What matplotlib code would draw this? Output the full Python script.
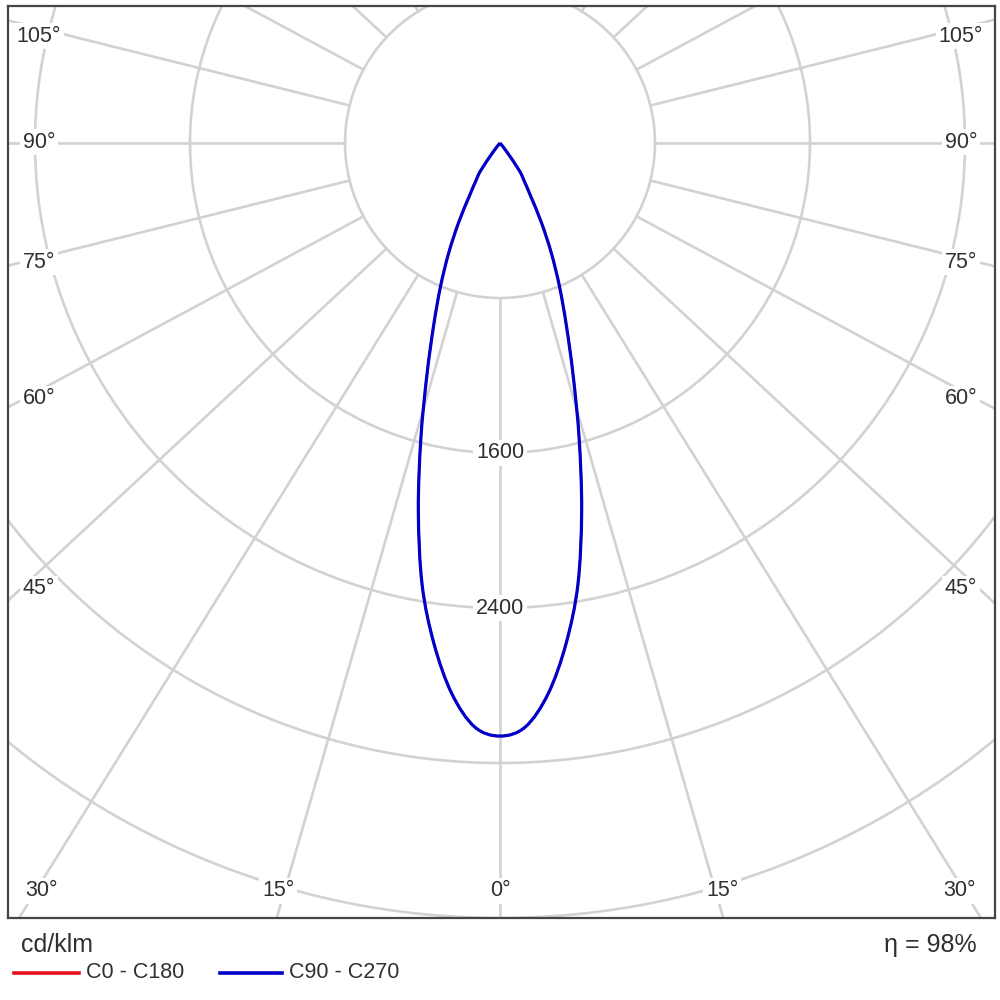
import numpy as np
import matplotlib
matplotlib.use("Agg")
import matplotlib.pyplot as plt
from matplotlib.lines import Line2D
from matplotlib.path import Path
from matplotlib.patches import PathPatch

# ---------------- data ----------------
gamma_deg = [0, 2.5, 5, 7.5, 10, 12.5, 15, 17.5, 20, 22.5, 25, 27.5, 30,
             32.5, 35, 37.5, 40, 42.5, 45]
intensity_c0_c180 = [3061, 3016, 2853, 2608, 2315, 1947, 1578, 1254, 1001, 803,
                     627, 463, 317, 233, 174, 60, 0, 0, 0]
intensity_c90_c270 = [3061, 3016, 2853, 2608, 2315, 1947, 1578, 1254, 1001, 803,
                      627, 463, 317, 233, 174, 60, 0, 0, 0]
ring_values = [800, 1600, 2400, 3200, 4000]
ring_labels = [1600, 2400]
grid_angles = [0, 15, 30, 45, 60, 75, 90, 105, 120, 135, 150, 165, 180]
side_angle_labels = [105, 90, 75, 60, 45]
bottom_angle_labels = [30, 15, 0]
unit_label = "cd/klm"
efficiency_label = "η = 98%"
series_names = ["C0 - C180", "C90 - C270"]

# ---------------- layout ----------------
W = H = 1000
CX, CY = 500.0, 143.0          # pole position in pixels
PX_PER_UNIT = 155.0 / 800.0    # pixels per cd/klm
FRAME = (8, 6, 995, 918)       # left, top, right, bottom in pixels
H_STRETCH = 1.075              # radial grid drawn slightly stretched horizontally

grid_col = "#d2d2d2"
text_col = "#303030"
red = "#e8101a"
blue = "#0000c8"
font = ["Liberation Sans", "DejaVu Sans"]

def px2data(px, py):
    return (px - CX) / PX_PER_UNIT, (CY - py) / PX_PER_UNIT

fig = plt.figure(figsize=(W / 100, H / 100), dpi=100)
fl, ft, fr, fb = FRAME
ax = fig.add_axes([fl / W, 1 - fb / H, (fr - fl) / W, (fb - ft) / H])
x0, y1 = px2data(fl, ft)
x1, y0 = px2data(fr, fb)
ax.set_xlim(x0, x1)
ax.set_ylim(y0, y1)
ax.set_xticks([])
ax.set_yticks([])
for sp in ax.spines.values():
    sp.set_color("#454545")
    sp.set_linewidth(1.6)
    sp.set_zorder(10)

# rings
t = np.linspace(0, 2 * np.pi, 721)
for r in ring_values:
    ax.plot(r * np.cos(t), r * np.sin(t), color=grid_col, lw=1.9, zorder=1,
            solid_capstyle="butt")

# radial lines (from first ring outward)
for g in grid_angles:
    for sgn in ([1] if g in (0, 180) else [-1, 1]):
        gr = np.radians(g)
        d = np.array([sgn * H_STRETCH * np.sin(gr), -np.cos(gr)])
        d = d / np.hypot(*d)
        ax.plot([ring_values[0] * d[0], 9000 * d[0]],
                [ring_values[0] * d[1], 9000 * d[1]],
                color=grid_col, lw=1.9, zorder=1)

box = dict(boxstyle="square,pad=0.12", fc="white", ec="none")

# ring labels
for v in ring_labels:
    ax.text(0, -v, f"{v}", ha="center", va="center", fontsize=15.5,
            family=font, color=text_col, bbox=box, zorder=3)

# angle labels (pixel layout)
side_y = {105: 36, 90: 142, 75: 262, 60: 399, 45: 589}
for a in side_angle_labels:
    for px in (39, 961):
        x, y = px2data(px, side_y[a])
        ax.text(x, y, f"{a}°", ha="center", va="center", fontsize=15.5,
                family=font, color=text_col, bbox=box, zorder=3)
bottom_x = {30: 41, 15: 278, 0: 500}
for a in bottom_angle_labels:
    for px in sorted({bottom_x[a], 1000 - bottom_x[a]}):
        x, y = px2data(px, 891)
        ax.text(x, y, f"{a}°", ha="center", va="center", fontsize=15.5,
                family=font, color=text_col, bbox=box, zorder=3)

# curves: polar -> cartesian, drawn as a smooth (Catmull-Rom) Bezier path
def curve_pts(gam, inten):
    g = np.radians(np.array(gam, dtype=float))
    I = np.array(inten, dtype=float)
    g_full = np.concatenate([-g[::-1], g[1:]])
    I_full = np.concatenate([I[::-1], I[1:]])
    pts = np.column_stack([I_full * np.sin(g_full), -I_full * np.cos(g_full)])
    keep = [0]
    for i in range(1, len(pts)):
        if np.hypot(*(pts[i] - pts[keep[-1]])) > 1e-9:
            keep.append(i)
    return pts[keep]

def smooth_path(pts):
    n = len(pts)
    verts = [pts[0]]
    codes = [Path.MOVETO]
    for i in range(n - 1):
        p0 = pts[max(i - 1, 0)]
        p1 = pts[i]
        p2 = pts[i + 1]
        p3 = pts[min(i + 2, n - 1)]
        c1 = p1 + (p2 - p0) / 6.0
        c2 = p2 - (p3 - p1) / 6.0
        verts += [c1, c2, p2]
        codes += [Path.CURVE4] * 3
    return Path(np.array(verts), codes)

ax.add_patch(PathPatch(smooth_path(curve_pts(gamma_deg, intensity_c0_c180)),
                       fill=False, ec=red, lw=1.6, zorder=4))
ax.add_patch(PathPatch(smooth_path(curve_pts(gamma_deg, intensity_c90_c270)),
                       fill=False, ec=blue, lw=2.3, zorder=5,
                       joinstyle="round"))

# footer
fig.text(21 / W, 1 - 945 / H, unit_label, ha="left", va="center",
         fontsize=18, family=font, color=text_col)
fig.text(977 / W, 1 - 945 / H, efficiency_label, ha="right", va="center",
         fontsize=18, family=font, color=text_col)
ly = 1 - 973 / H
fig.add_artist(Line2D([14 / W, 79 / W], [ly, ly], color=red, lw=2.6,
                      transform=fig.transFigure))
fig.text(86 / W, ly, series_names[0], ha="left", va="center", fontsize=15.5,
         family=font, color=text_col)
fig.add_artist(Line2D([220 / W, 282 / W], [ly, ly], color=blue, lw=2.6,
                      transform=fig.transFigure))
fig.text(289 / W, ly, series_names[1], ha="left", va="center", fontsize=15.5,
         family=font, color=text_col)

fig.savefig("out.png", dpi=100, facecolor="white")
